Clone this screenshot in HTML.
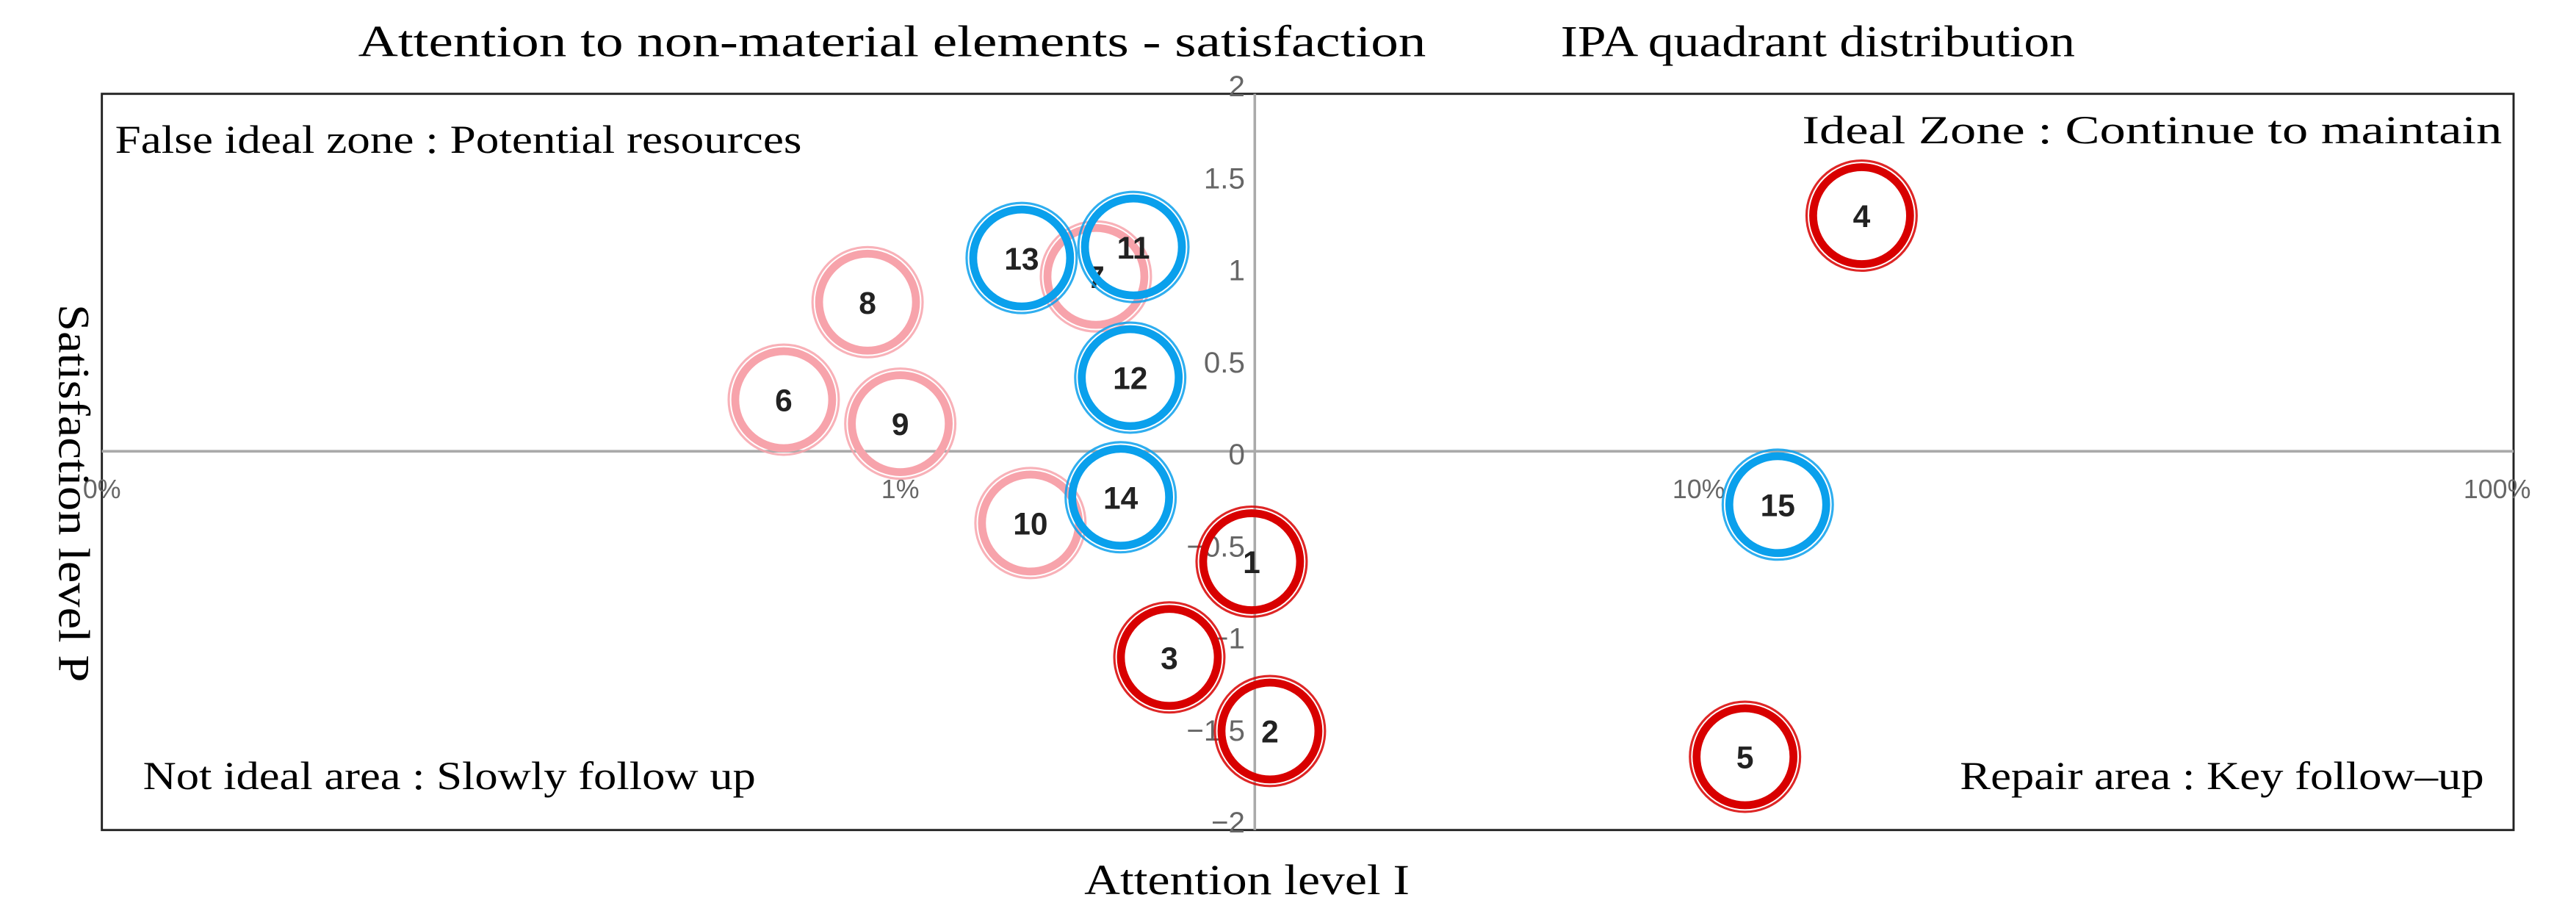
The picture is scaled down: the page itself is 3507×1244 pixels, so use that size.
<!DOCTYPE html>
<html><head><meta charset="utf-8"><style>
html,body{margin:0;padding:0;background:#fff;}
svg{display:block;}
</style></head><body>
<svg id="chart" width="3507" height="1244" viewBox="0 0 1568 556" xmlns="http://www.w3.org/2000/svg">
<text x="218" y="34" font-family="Liberation Serif, serif" font-size="27" textLength="650" lengthAdjust="spacingAndGlyphs" fill="#000">Attention to non-material elements - satisfaction</text>
<text x="950" y="34" font-family="Liberation Serif, serif" font-size="27" textLength="313" lengthAdjust="spacingAndGlyphs" fill="#000">IPA quadrant distribution</text>
<rect x="62" y="57" width="1468" height="448" fill="none" stroke="#222" stroke-width="1.3"/>
<g id="axes"></g>
<g id="points"></g>
<text x="70" y="93" font-family="Liberation Serif, serif" font-size="24" textLength="418" lengthAdjust="spacingAndGlyphs">False ideal zone : Potential resources</text>
<text x="1097" y="87" font-family="Liberation Serif, serif" font-size="24" textLength="426" lengthAdjust="spacingAndGlyphs">Ideal Zone : Continue to maintain</text>
<text x="87" y="480" font-family="Liberation Serif, serif" font-size="24" textLength="373" lengthAdjust="spacingAndGlyphs">Not ideal area : Slowly follow up</text>
<text x="1193" y="480" font-family="Liberation Serif, serif" font-size="24" textLength="319" lengthAdjust="spacingAndGlyphs">Repair area : Key follow–up</text>
<text transform="translate(36,300) rotate(90)" text-anchor="middle" font-family="Liberation Serif, serif" font-size="27" textLength="230" lengthAdjust="spacingAndGlyphs">Satisfaction level  P</text>
<text x="660" y="544" font-family="Liberation Serif, serif" font-size="26" textLength="198" lengthAdjust="spacingAndGlyphs">Attention level   I</text>
</svg>
<script>
const ids = [1,2,3,4,5,6,7,8,9,10,11,12,13,14,15];
const attention = [1.44,1.463,1.337,2.204,2.058,0.854,1.245,0.959,1.0,1.163,1.292,1.288,1.152,1.276,2.099];
const satisfaction = [-0.6,-1.52,-1.12,1.28,-1.66,0.28,0.95,0.81,0.15,-0.39,1.11,0.4,1.05,-0.25,-0.29];
const groups = ['red','red','red','red','red','pink','pink','pink','pink','pink','blue','blue','blue','blue','blue'];
const yTicks = [2,1.5,1,0.5,0,-0.5,-1,-1.5,-2];
const yTickLabels = ['2','1.5','1','0.5','0','−0.5','−1','−1.5','−2'];
const xTicks = [0,1,2,3];
const xTickLabels = ['0%','1%','10%','100%'];
const xCross = 1.444;
const yCross = 0;

const NS='http://www.w3.org/2000/svg';
function X(v){return 62+v*486;}
function Y(v){return 274.5-v*112;}
const axes=document.getElementById('axes');
const pts=document.getElementById('points');
function mk(tag,attrs,parent){const e=document.createElementNS(NS,tag);for(const k in attrs)e.setAttribute(k,attrs[k]);parent.appendChild(e);return e;}

let l=mk('line',{x1:62,x2:1530,y1:Y(yCross),y2:Y(yCross),stroke:'#aaa','stroke-width':1.6},axes);


l=mk('line',{x1:X(xCross),x2:X(xCross),y1:57,y2:505,stroke:'#aaa','stroke-width':1.6},axes);



yTicks.forEach((v,i)=>{
  const t=mk('text',{x:X(xCross)-6,y:Y(v)+8,'text-anchor':'end','font-family':'Liberation Sans, sans-serif','font-size':18,fill:'#666'},axes);
  t.textContent=yTickLabels[i];
  
  
});
xTicks.forEach((v,i)=>{
  const t=mk('text',{x:X(v),y:303,'text-anchor':'middle','font-family':'Liberation Sans, sans-serif','font-size':16,fill:'#666'},axes);
  t.textContent=xTickLabels[i];
  
  
});

const colors={red:'#d80000',pink:'#f7a3ab',blue:'#0aa0ec'};
const order=['pink','blue','red'];
order.forEach(g=>{
  ids.forEach((id,i)=>{
    if(groups[i]!==g)return;
    const cx=X(attention[i]),cy=Y(satisfaction[i]);
    const grp=mk('g',{},pts);
    
    
    mk('circle',{cx:cx,cy:cy,r:33.5,fill:'none',stroke:colors[g],'stroke-width':1.4,opacity:0.85},grp);
    mk('circle',{cx:cx,cy:cy,r:29.5,fill:'none',stroke:colors[g],'stroke-width':4.8},grp);
    const t=mk('text',{x:cx,y:cy+7,'text-anchor':'middle','font-family':'Liberation Sans, sans-serif','font-size':19,'font-weight':'bold',fill:'#222'},grp);
    t.textContent=id;
  });
});
</script>
</body></html>
